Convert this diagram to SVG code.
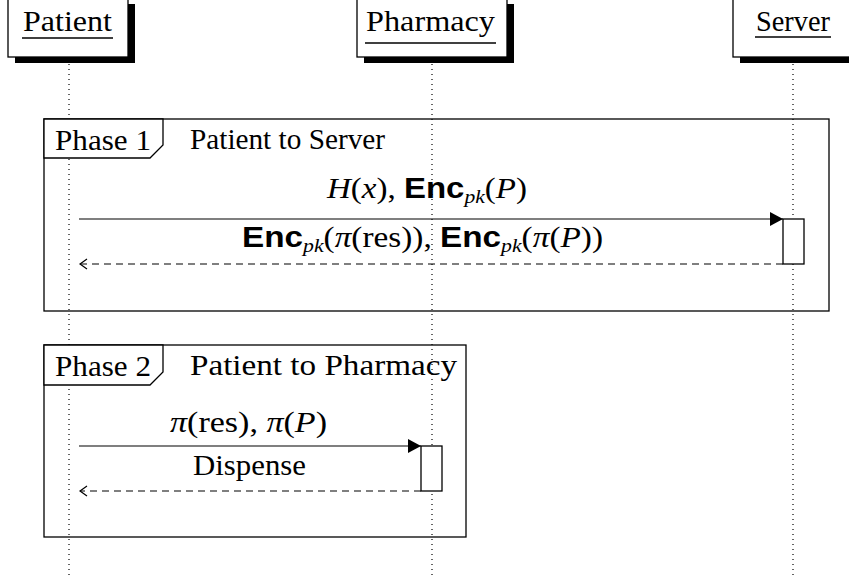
<svg xmlns="http://www.w3.org/2000/svg" width="849" height="579" viewBox="0 0 849 579">
<style>
.bg{fill:#fff}
.box{fill:#fff;stroke:#000;stroke-width:1.3}
.shadow{fill:#000}
.life{stroke:#000;stroke-width:1.2;stroke-dasharray:1 4;fill:none}
.frame{fill:none;stroke:#000;stroke-width:1.3}
.tab{fill:#fff;stroke:#000;stroke-width:1.3}
.t{font-family:"Liberation Serif","DejaVu Serif","Times New Roman",serif;font-size:29px;fill:#000}
.msg{stroke:#000;stroke-width:1.2;fill:none}
.ret{stroke:#000;stroke-width:1.2;fill:none;stroke-dasharray:7 5}
.act{fill:#fff;stroke:#000;stroke-width:1.3}
.it{font-style:italic}
.enc{font-family:"Liberation Sans",Arial,sans-serif;font-weight:bold}
.sub{font-style:italic;font-size:19px}
.ul{stroke:#000;stroke-width:1.3}
</style>
<defs>
<marker id="fill" markerWidth="14" markerHeight="14" refX="13" refY="7" orient="auto" markerUnits="userSpaceOnUse">
<path d="M0,0 L13,7 L0,14 z" fill="#000"/>
</marker>
<marker id="open" markerWidth="10" markerHeight="12" refX="8" refY="6" orient="auto" markerUnits="userSpaceOnUse">
<path d="M1,1 L8,6 L1,11" fill="none" stroke="#000" stroke-width="1.2"/>
</marker>
</defs>
<rect class="bg" x="0" y="0" width="849" height="579"/>

<g id="lifelines">
<line class="life" x1="69" y1="64" x2="69" y2="579"/>
<line class="life" x1="432" y1="64" x2="432" y2="579"/>
<line class="life" x1="793" y1="64" x2="793" y2="579"/>
</g>

<g id="patient">
<rect class="shadow" x="15" y="4" width="120" height="59"/>
<rect class="box" x="8" y="-3" width="120" height="60"/>
<text class="t" x="23" y="31" textLength="89" lengthAdjust="spacingAndGlyphs">Patient</text>
<line class="ul" x1="22" y1="38" x2="113" y2="38"/>
</g>
<g id="pharmacy">
<rect class="shadow" x="364" y="4" width="150" height="59"/>
<rect class="box" x="357" y="-3" width="150" height="60"/>
<text class="t" x="366" y="31" textLength="129" lengthAdjust="spacingAndGlyphs">Pharmacy</text>
<line class="ul" x1="365" y1="43" x2="496" y2="43"/>
</g>
<g id="server">
<rect class="shadow" x="740" y="4" width="120" height="59"/>
<rect class="box" x="733" y="-3" width="130" height="60"/>
<text class="t" x="756" y="31" textLength="74" lengthAdjust="spacingAndGlyphs">Server</text>
<line class="ul" x1="755" y1="37" x2="831" y2="37"/>
</g>

<g id="phase1">
<rect class="frame" x="44" y="119" width="785" height="192"/>
<path class="tab" d="M44,119 L163,119 L163,145 L150,158 L44,158 Z"/>
<text class="t" x="55" y="150" textLength="96" lengthAdjust="spacingAndGlyphs">Phase 1</text>
<text class="t" x="190" y="149" textLength="195" lengthAdjust="spacingAndGlyphs">Patient to Server</text>
</g>

<g id="phase2">
<rect class="frame" x="44" y="345" width="422" height="192"/>
<path class="tab" d="M44,345 L163,345 L163,372 L150,385 L44,385 Z"/>
<text class="t" x="55" y="376" textLength="96" lengthAdjust="spacingAndGlyphs">Phase 2</text>
<text class="t" x="190" y="375" textLength="267" lengthAdjust="spacingAndGlyphs">Patient to Pharmacy</text>
</g>

<g id="activation-server">
<rect class="act" x="783" y="219" width="21" height="45"/>
</g>
<g id="activation-pharmacy">
<rect class="act" x="421" y="446" width="21" height="45"/>
</g>

<g id="connectors">
<line class="msg" x1="79" y1="219" x2="783" y2="219" marker-end="url(#fill)"/>
<text class="t" x="327" y="198" textLength="200" lengthAdjust="spacingAndGlyphs"><tspan class="it">H</tspan>(<tspan class="it">x</tspan>), <tspan class="enc">Enc</tspan><tspan class="sub" dy="5">pk</tspan><tspan dy="-5">(</tspan><tspan class="it">P</tspan>)</text>
<line class="ret" x1="783" y1="264" x2="80" y2="264" marker-end="url(#open)"/>
<text class="t" x="242" y="247" textLength="361" lengthAdjust="spacingAndGlyphs"><tspan class="enc">Enc</tspan><tspan class="sub" dy="5">pk</tspan><tspan dy="-5">(</tspan><tspan class="it">π</tspan>(res)), <tspan class="enc">Enc</tspan><tspan class="sub" dy="5">pk</tspan><tspan dy="-5">(</tspan><tspan class="it">π</tspan>(<tspan class="it">P</tspan>))</text>

<line class="msg" x1="79" y1="446" x2="421" y2="446" marker-end="url(#fill)"/>
<text class="t" x="170" y="432" textLength="157" lengthAdjust="spacingAndGlyphs"><tspan class="it">π</tspan>(res), <tspan class="it">π</tspan>(<tspan class="it">P</tspan>)</text>
<line class="ret" x1="421" y1="491" x2="80" y2="491" marker-end="url(#open)"/>
<text class="t" x="193" y="475" textLength="113" lengthAdjust="spacingAndGlyphs">Dispense</text>
</g>
</svg>
